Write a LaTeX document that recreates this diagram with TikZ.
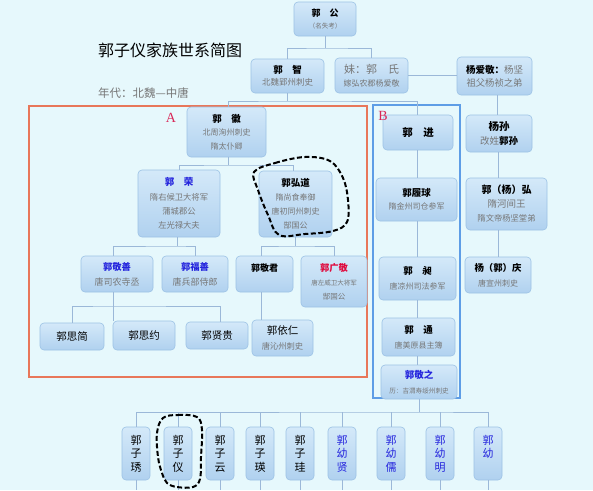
\documentclass[tikz,border=0pt]{standalone}
\usepackage{fontspec}
\setmainfont{Noto Sans CJK SC}
\newfontfamily\latserif{Liberation Serif}
\definecolor{bgc}{HTML}{E6F8FC}
\definecolor{boxtop}{HTML}{D4E9F9}
\definecolor{boxbot}{HTML}{B0D1EF}
\definecolor{boxline}{HTML}{9CC2E5}
\definecolor{connc}{HTML}{9BB8D8}
\definecolor{gtext}{HTML}{767676}
\definecolor{bname}{HTML}{2424DD}
\definecolor{rname}{HTML}{E0083C}
\definecolor{aframe}{HTML}{E8775A}
\definecolor{bframe}{HTML}{5E9DE6}
\definecolor{lbl}{HTML}{D82858}
\newcommand{\NM}[2][9.5]{{\fontsize{#1}{12}\selectfont\bfseries #2}}
\newcommand{\NMB}[2][9.5]{{\color{bname}\fontsize{#1}{12}\selectfont\bfseries #2}}
\newcommand{\DS}[2][8]{{\color{gtext}\fontsize{#1}{12}\selectfont #2}}
\begin{document}
\begin{tikzpicture}[x=1pt,y=-1pt,
  box/.style={draw=boxline, line width=0.6pt, rounded corners=4pt, top color=boxtop, bottom color=boxbot, inner sep=1pt, align=center},
  vbox/.style={box, minimum width=28pt, minimum height=53pt, font=\fontsize{11}{13.5}\selectfont},
  conn/.style={draw=connc, line width=0.8pt},
  handloop/.style={draw=black, line width=2pt, dash pattern=on 5pt off 2.5pt},
  frameA/.style={draw=aframe, line width=2pt},
  frameB/.style={draw=bframe, line width=2.5pt},
  lab/.style={text=lbl, font=\latserif\fontsize{14}{14}\selectfont, inner sep=0pt}]
\fill[bgc] (0,0) rectangle (593,490);
\useasboundingbox (0,0) rectangle (593,490);

% frames
\draw[frameA] (29,106) rectangle (367,377);
\draw[frameB] (373,105) rectangle (460,398);

% title
\node[anchor=west, font=\fontsize{16}{16}\selectfont, inner sep=0pt] (title) at (98,50) {郭子仪家族世系简图};
\node[anchor=west, text=gtext, font=\fontsize{11.5}{12}\selectfont, inner sep=0pt] (era) at (98,93) {年代：北魏—中唐};

% top
\node[box, minimum width=62pt, minimum height=34pt, font=\fontsize{8}{12}\selectfont] (gg) at (325,19) {\NM[9]{郭　公}\\\DS[6.5]{（名失考）}};
\node[box, minimum width=73pt, minimum height=34pt, font=\fontsize{8}{12}\selectfont] (gz) at (287.5,76) {\NM{郭　智}\\\DS[8.5]{北魏郢州刺史}};
\node[box, minimum width=73pt, minimum height=35pt, font=\fontsize{8}{12.5}\selectfont] (mei) at (371.5,75.5) {\DS[11]{妹：郭　氏}\\\DS[8]{嫁弘农郡杨爱敬}};
\node[box, minimum width=75pt, minimum height=38pt, font=\fontsize{8}{13}\selectfont] (yaj) at (494.5,76) {\NM[9.5]{杨爱敬：}\DS[9.5]{杨坚}\\\DS[9.3]{祖父杨祯之弟}};

% A group
\node[box, minimum width=79pt, minimum height=50pt, font=\fontsize{8}{13.5}\selectfont] (gh) at (226.5,132) {\NM{郭　徽}\\\DS{北周洵州刺史}\\\DS{隋太仆卿}};
\node[box, minimum width=82pt, minimum height=67pt, font=\fontsize{8}{14.3}\selectfont] (gr) at (179,203.5) {\NMB{郭　荣}\\\DS[8.3]{隋右候卫大将军}\\\DS[8.3]{蒲城郡公}\\\DS[8.3]{左光禄大夫}};
\node[box, minimum width=73pt, minimum height=66pt, font=\fontsize{8}{14}\selectfont] (ghd) at (295.5,204) {\NM{郭弘道}\\\DS{隋尚食奉御}\\\DS{唐初同州刺史}\\\DS{郜国公}};
\node[box, minimum width=72pt, minimum height=36pt, font=\fontsize{8}{15}\selectfont] (gjs) at (117,274) {\NMB[9.3]{郭敬善}\\\DS[9]{唐司农寺丞}};
\node[box, minimum width=66pt, minimum height=36pt, font=\fontsize{8}{15}\selectfont] (gfs) at (195,274) {\NMB[9.3]{郭福善}\\\DS[9]{唐兵部侍郎}};
\node[box, minimum width=57pt, minimum height=36pt, font=\fontsize{8}{12}\selectfont] (gjj) at (264.5,274) {\NM[9]{郭敬君}\\\phantom{郭}};
\node[box, minimum width=66pt, minimum height=51pt, font=\fontsize{8}{14}\selectfont] (ggj) at (334,281.5) {{\color{rname}\fontsize{9.3}{12}\selectfont\bfseries 郭广敬}\\\DS[6.5]{唐左威卫大将军}\\\DS[7.5]{郜国公}};
\node[box, minimum width=64pt, minimum height=27pt, font=\fontsize{10.5}{12}\selectfont] (gsj) at (72,336.5) {郭思简};
\node[box, minimum width=62pt, minimum height=29pt, font=\fontsize{10.5}{12}\selectfont] (gsy) at (144,335.5) {郭思约};
\node[box, minimum width=62pt, minimum height=27pt, font=\fontsize{10.5}{12}\selectfont] (gxg) at (217,335.5) {郭贤贵};
\node[box, minimum width=61pt, minimum height=36pt, font=\fontsize{8}{15}\selectfont] (gyr) at (282.5,338) {{\fontsize{10.5}{12}\selectfont 郭依仁}\\\DS[8.3]{唐沁州刺史}};

% B group
\node[box, minimum width=70pt, minimum height=35pt, font=\fontsize{10.5}{12}\selectfont] (gj) at (418,132.5) {\NM[10.5]{郭　进}};
\node[box, minimum width=81pt, minimum height=43pt, font=\fontsize{8}{13}\selectfont] (glq) at (416.5,199.5) {\NM{郭履球}\\\DS{隋金州司仓参军}};
\node[box, minimum width=77pt, minimum height=43pt, font=\fontsize{8}{15}\selectfont] (gc) at (417.5,278.5) {\NM{郭　昶}\\\DS{唐凉州司法参军}};
\node[box, minimum width=73pt, minimum height=38pt, font=\fontsize{8}{15}\selectfont] (gt) at (418.5,337) {\NM{郭　通}\\\DS{唐美原县主簿}};
\node[box, minimum width=76pt, minimum height=34pt, font=\fontsize{8}{15}\selectfont] (gjz) at (419,382) {\NMB{郭敬之}\\\DS[6.6]{历：吉渭寿绥州刺史}};

% right column
\node[box, minimum width=66pt, minimum height=37pt, font=\fontsize{8}{14}\selectfont] (ys) at (499,133.5) {\NM[10.5]{杨孙}\\\DS[9.5]{改姓}\NM[9.5]{郭孙}};
\node[box, minimum width=81pt, minimum height=52pt, font=\fontsize{8}{14}\selectfont] (gyh) at (506.5,204) {\NM[10]{郭（杨）弘}\\\DS[9.5]{隋河间王}\\\DS[8.3]{隋文帝杨坚堂弟}};
\node[box, minimum width=66pt, minimum height=36pt, font=\fontsize{8}{15}\selectfont] (ygq) at (498,275) {\NM[9.4]{杨（郭）庆}\\\DS[8]{唐宣州刺史}};

% bottom row
\node[vbox] (b1) at (136,453.5) {郭\\子\\琇};
\node[vbox] (b2) at (178,453.5) {郭\\子\\仪};
\node[vbox] (b3) at (220,453.5) {郭\\子\\云};
\node[vbox] (b4) at (260,453.5) {郭\\子\\瑛};
\node[vbox] (b5) at (300,453.5) {郭\\子\\珪};
\node[vbox, text=bname] (b6) at (342,453.5) {郭\\幼\\贤};
\node[vbox, text=bname] (b7) at (391,453.5) {郭\\幼\\儒};
\node[vbox, text=bname] (b8) at (440,453.5) {郭\\幼\\明};
\node[vbox, text=bname] (b9) at (488,453.5) {郭\\幼\\\phantom{郭}};

% labels A / B on top
\node[lab] (la) at (171,118) {A};
\node[lab] (lb) at (383,116) {B};

% junction coordinates
\coordinate (j1) at (0,48);
\coordinate (j2) at (0,101);
\coordinate (j3) at (0,165);
\coordinate (j4) at (0,246);
\coordinate (j5) at (0,306);
\coordinate (j6) at (0,412);
\coordinate (bend) at (0,490);

% connectors
\draw[conn] (gg.south) -- (gg.south |- j1);
\draw[conn] (gz.north) |- (gg.south |- j1) -| (mei.north);
\draw[conn] (mei.east) -- (yaj.west |- mei.east);
\draw[conn] (gz.south) -- (gz.south |- j2);
\draw[conn] ([xshift=1.5pt]gh.north) |- (gz.south |- j2) -| ([xshift=-1pt]gj.north);
\draw[conn] ([xshift=1.5pt]gh.south) -- ([xshift=1.5pt]gh.south |- j3);
\draw[conn] (gr.north) |- ([xshift=1.5pt]gh.south |- j3) -| ([xshift=-2pt]ghd.north);
\draw[conn] ([xshift=-2pt]gr.south) -- ([xshift=-2pt]gr.south |- j4);
\draw[conn] ([xshift=-4pt]gjs.north) |- ([xshift=-2pt]gr.south |- j4) -| (gfs.north);
\draw[conn] (ghd.south) -- (ghd.south |- j4);
\draw[conn] ([xshift=-3.5pt]gjj.north) |- (ghd.south |- j4) -| (ggj.north);
\draw[conn] ([xshift=-4pt]gjs.south) -- ([xshift=-4pt]gjs.south |- j5);
\draw[conn] (gsj.north) |- ([xshift=-4pt]gjs.south |- j5) -| ([xshift=3pt]gxg.north);
\draw[conn] ([xshift=-4pt]gjs.south |- j5) -- ([xshift=-4pt]gjs.south |- gsy.north);
\draw[conn] ([xshift=-3.5pt]gjj.south) -- ([xshift=-3.5pt]gjj.south |- gyr.north);
% B chain
\draw[conn] ([xshift=-1pt]gj.south) -- ([xshift=-1pt]gj.south |- glq.north);
\draw[conn] ([xshift=-1pt]gj.south |- glq.south) -- ([xshift=-1pt]gj.south |- gc.north);
\draw[conn] ([xshift=-1pt]gj.south |- gc.south) -- ([xshift=-1pt]gj.south |- gt.north);
\draw[conn] ([xshift=-1pt]gj.south |- gt.south) -- ([xshift=-1pt]gj.south |- gjz.north);
% right chain
\draw[conn] ([xshift=2.5pt]yaj.south) -- ([xshift=2.5pt]yaj.south |- ys.north);
\draw[conn] ([xshift=-1pt]ys.south) -- ([xshift=-1pt]ys.south |- gyh.north);
\draw[conn] (ygq.north) -- (ygq.north |- gyh.south);
% bottom
\draw[conn] (gjz.south) -- (gjz.south |- j6);
\draw[conn] (b1.north) |- (gjz.south |- j6) -| (b9.north);
\foreach \n in {b2,b3,b4,b5,b6,b7,b8}{\draw[conn] (\n.north) -- (\n.north |- j6);}
\foreach \n in {b1,b2,b3,b4,b5,b6,b7,b8,b9}{\draw[conn] (\n.south) -- (\n.south |- bend);}

% hand-drawn dashed loops
\draw[handloop] plot[smooth cycle, tension=0.6] coordinates {(254,172) (275,163) (305,157) (330,161) (343,178) (348,200) (347,222) (333,231) (305,234) (279,235) (268,215) (258,190)};
\draw[handloop] plot[smooth cycle, tension=0.6] coordinates {(163,418) (178,415) (197,417) (202,430) (201,457) (200,479) (193,487) (177,487) (167,483) (162,473) (158,457) (157,433)};
\end{tikzpicture}
\end{document}
